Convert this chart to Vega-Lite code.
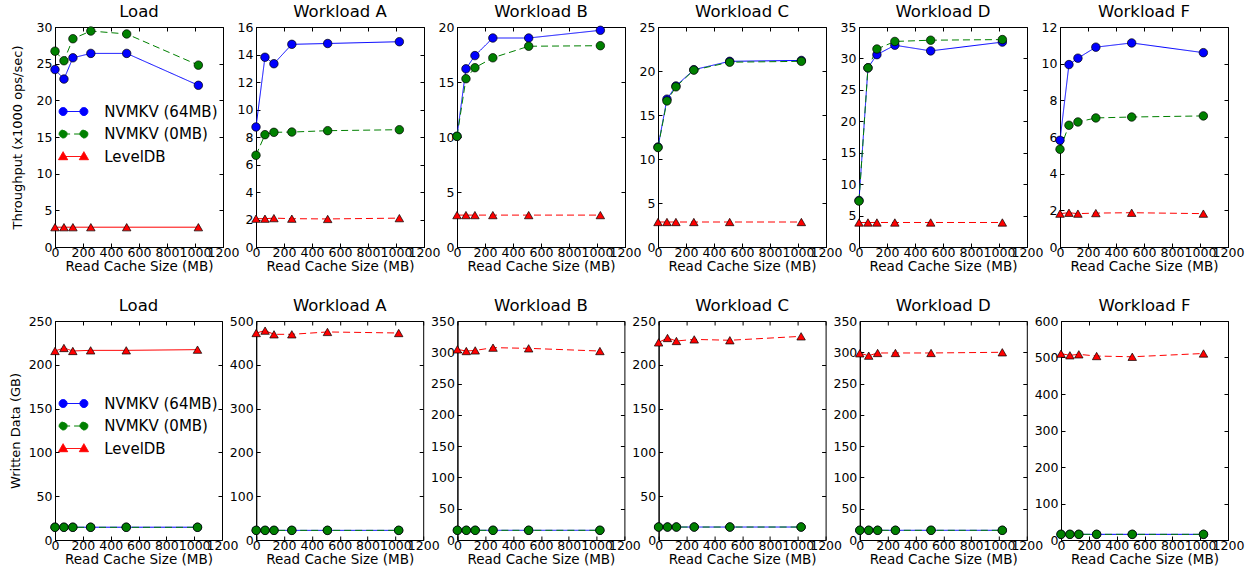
{
"$schema":"https://vega.github.io/schema/vega-lite/v6.json",
"background":"white",
"padding":{"left":8,"top":3,"right":0,"bottom":0},
"spacing":23,
"columns":1,
"align":"none",
"resolve":{"scale":{"color":"independent","shape":"independent","strokeDash":"independent"}},
"concat":[
{"spacing":33.0,"bounds":"flush",
 "resolve":{"scale":{"color":"independent","shape":"independent","strokeDash":"independent"}},
 "hconcat":[
  {"width":168,"height":220,"title":"Load",
   "data":{"values":[
    {"cache":0,"series":"NVMKV (64MB)","value":24.2},{"cache":64,"series":"NVMKV (64MB)","value":22.9},{"cache":128,"series":"NVMKV (64MB)","value":25.8},{"cache":256,"series":"NVMKV (64MB)","value":26.4},{"cache":512,"series":"NVMKV (64MB)","value":26.4},{"cache":1024,"series":"NVMKV (64MB)","value":22.05},
    {"cache":0,"series":"NVMKV (0MB)","value":26.7},{"cache":64,"series":"NVMKV (0MB)","value":25.4},{"cache":128,"series":"NVMKV (0MB)","value":28.4},{"cache":256,"series":"NVMKV (0MB)","value":29.45},{"cache":512,"series":"NVMKV (0MB)","value":29.05},{"cache":1024,"series":"NVMKV (0MB)","value":24.8},
    {"cache":0,"series":"LevelDB","value":2.7},{"cache":64,"series":"LevelDB","value":2.7},{"cache":128,"series":"LevelDB","value":2.7},{"cache":256,"series":"LevelDB","value":2.7},{"cache":512,"series":"LevelDB","value":2.7},{"cache":1024,"series":"LevelDB","value":2.7}]},
   "layer":[
    {"transform":[{"filter":"false"}],
     "mark":{"type":"point","filled":true,"opacity":1},
     "encoding":{
      "x":{"field":"cache","type":"quantitative","axis":null},
      "y":{"field":"value","type":"quantitative","axis":null},
      "color":{"field":"series","type":"nominal","scale":{"domain":["NVMKV (64MB)","NVMKV (0MB)","LevelDB"],"range":["#0000ff","#008000","#ff0000"]},
        "legend":{"orient":"none","legendX":11,"legendY":77,"title":null,"padding":0,"labelFontSize":15,"labelFont":"DejaVu Sans","labelColor":"black","labelOffset":23.2,"rowPadding":6.5,"symbolSize":64,"symbolStrokeWidth":1,"symbolOpacity":1}},
      "shape":{"field":"series","type":"nominal","scale":{"domain":["NVMKV (64MB)","NVMKV (0MB)","LevelDB"],"range":["M-2.6,0L2.6,0M-1.6,0A1,1,0,1,1,-3.6,0A1,1,0,1,1,-1.6,0ZM3.6,0A1,1,0,1,1,1.6,0A1,1,0,1,1,3.6,0Z","M-2.6,0L2.6,0M-1.6,0A1,1,0,1,1,-3.6,0A1,1,0,1,1,-1.6,0ZM3.6,0A1,1,0,1,1,1.6,0A1,1,0,1,1,3.6,0Z","M-2.6,0L2.6,0M-2.6,-1.2L-1.45,0.8L-3.75,0.8ZM2.6,-1.2L3.75,0.8L1.45,0.8Z"]}}}},
    {"mark":{"type":"line","strokeWidth":1},
     "encoding":{
      "x":{"field":"cache","type":"quantitative","scale":{"domain":[0,1200],"nice":false},"axis":{"values":[0,200,400,600,800,1000,1200],"title":"Read Cache Size (MB)"}},
      "y":{"field":"value","type":"quantitative","scale":{"domain":[0,30],"nice":false},"axis":{"values":[0,5,10,15,20,25,30],"title":"Throughput (x1000 ops/sec)","titlePadding":12}},
      "color":{"field":"series","type":"nominal","scale":{"domain":["NVMKV (64MB)","NVMKV (0MB)","LevelDB"],"range":["#0000ff","#008000","#ff0000"]}},
      "strokeDash":{"field":"series","type":"nominal","scale":{"domain":["NVMKV (64MB)","NVMKV (0MB)","LevelDB"],"range":[[1,0],[7,4],[1,0]]}}}},
    {"transform":[{"filter":"datum.series !== 'LevelDB'"}],
     "mark":{"type":"point","shape":"circle","filled":true,"size":72,"stroke":"black","strokeWidth":0.7,"opacity":1},
     "encoding":{
      "x":{"field":"cache","type":"quantitative","axis":null},
      "y":{"field":"value","type":"quantitative","axis":null},
      "color":{"field":"series","type":"nominal","scale":{"domain":["NVMKV (64MB)","NVMKV (0MB)","LevelDB"],"range":["#0000ff","#008000","#ff0000"]}}}},
    {"transform":[{"filter":"datum.series === 'LevelDB'"}],
     "mark":{"type":"point","shape":"triangle-up","filled":true,"size":72,"stroke":"black","strokeWidth":0.7,"opacity":1},
     "encoding":{
      "x":{"field":"cache","type":"quantitative","axis":null},
      "y":{"field":"value","type":"quantitative","axis":null},
      "color":{"field":"series","type":"nominal","scale":{"domain":["NVMKV (64MB)","NVMKV (0MB)","LevelDB"],"range":["#0000ff","#008000","#ff0000"]}}}},
    {"mark":{"type":"point","opacity":0},
     "encoding":{
      "x":{"field":"cache","type":"quantitative","axis":{"orient":"top","values":[0,200,400,600,800,1000,1200],"labels":false,"title":null,"domain":false}},
      "y":{"field":"value","type":"quantitative","axis":{"orient":"right","values":[0,5,10,15,20,25,30],"labels":false,"title":null,"domain":false}}}}
   ],
   "resolve":{"axis":{"x":"independent","y":"independent"}}},

  {"width":168,"height":220,"title":"Workload A",
   "data":{"values":[
    {"cache":0,"series":"NVMKV (64MB)","value":8.73},{"cache":64,"series":"NVMKV (64MB)","value":13.8},{"cache":128,"series":"NVMKV (64MB)","value":13.33},{"cache":256,"series":"NVMKV (64MB)","value":14.74},{"cache":512,"series":"NVMKV (64MB)","value":14.8},{"cache":1024,"series":"NVMKV (64MB)","value":14.93},
    {"cache":0,"series":"NVMKV (0MB)","value":6.67},{"cache":64,"series":"NVMKV (0MB)","value":8.17},{"cache":128,"series":"NVMKV (0MB)","value":8.34},{"cache":256,"series":"NVMKV (0MB)","value":8.36},{"cache":512,"series":"NVMKV (0MB)","value":8.46},{"cache":1024,"series":"NVMKV (0MB)","value":8.53},
    {"cache":0,"series":"LevelDB","value":2.06},{"cache":64,"series":"LevelDB","value":2.06},{"cache":128,"series":"LevelDB","value":2.1},{"cache":256,"series":"LevelDB","value":2.06},{"cache":512,"series":"LevelDB","value":2.04},{"cache":1024,"series":"LevelDB","value":2.1}]},
   "layer":[
    {"mark":{"type":"line","strokeWidth":1},
     "encoding":{
      "x":{"field":"cache","type":"quantitative","scale":{"domain":[0,1200],"nice":false},"axis":{"values":[0,200,400,600,800,1000,1200],"title":"Read Cache Size (MB)"}},
      "y":{"field":"value","type":"quantitative","scale":{"domain":[0,16],"nice":false},"axis":{"values":[0,2,4,6,8,10,12,14,16],"title":null}},
      "color":{"field":"series","type":"nominal","scale":{"domain":["NVMKV (64MB)","NVMKV (0MB)","LevelDB"],"range":["#0000ff","#008000","#ff0000"]},"legend":null},
      "strokeDash":{"field":"series","type":"nominal","scale":{"domain":["NVMKV (64MB)","NVMKV (0MB)","LevelDB"],"range":[[1,0],[7,4],[7,4]]},"legend":null}}},
    {"mark":{"type":"point","filled":true,"size":72,"stroke":"black","strokeWidth":0.7,"opacity":1},
     "encoding":{
      "x":{"field":"cache","type":"quantitative","axis":null},
      "y":{"field":"value","type":"quantitative","axis":null},
      "color":{"field":"series","type":"nominal","scale":{"domain":["NVMKV (64MB)","NVMKV (0MB)","LevelDB"],"range":["#0000ff","#008000","#ff0000"]},"legend":null},
      "shape":{"field":"series","type":"nominal","scale":{"domain":["NVMKV (64MB)","NVMKV (0MB)","LevelDB"],"range":["circle","circle","triangle-up"]},"legend":null}}},
    {"mark":{"type":"point","opacity":0},
     "encoding":{
      "x":{"field":"cache","type":"quantitative","axis":{"orient":"top","values":[0,200,400,600,800,1000,1200],"labels":false,"title":null,"domain":false}},
      "y":{"field":"value","type":"quantitative","axis":{"orient":"right","values":[0,2,4,6,8,10,12,14,16],"labels":false,"title":null,"domain":false}}}}
   ],
   "resolve":{"axis":{"x":"independent","y":"independent"}}},

  {"width":168,"height":220,"title":"Workload B",
   "data":{"values":[
    {"cache":0,"series":"NVMKV (64MB)","value":10.06},{"cache":64,"series":"NVMKV (64MB)","value":16.2},{"cache":128,"series":"NVMKV (64MB)","value":17.4},{"cache":256,"series":"NVMKV (64MB)","value":19.0},{"cache":512,"series":"NVMKV (64MB)","value":19.0},{"cache":1024,"series":"NVMKV (64MB)","value":19.7},
    {"cache":0,"series":"NVMKV (0MB)","value":10.06},{"cache":64,"series":"NVMKV (0MB)","value":15.3},{"cache":128,"series":"NVMKV (0MB)","value":16.3},{"cache":256,"series":"NVMKV (0MB)","value":17.2},{"cache":512,"series":"NVMKV (0MB)","value":18.25},{"cache":1024,"series":"NVMKV (0MB)","value":18.3},
    {"cache":0,"series":"LevelDB","value":2.9},{"cache":64,"series":"LevelDB","value":2.9},{"cache":128,"series":"LevelDB","value":2.9},{"cache":256,"series":"LevelDB","value":2.9},{"cache":512,"series":"LevelDB","value":2.9},{"cache":1024,"series":"LevelDB","value":2.9}]},
   "layer":[
    {"mark":{"type":"line","strokeWidth":1},
     "encoding":{
      "x":{"field":"cache","type":"quantitative","scale":{"domain":[0,1200],"nice":false},"axis":{"values":[0,200,400,600,800,1000,1200],"title":"Read Cache Size (MB)"}},
      "y":{"field":"value","type":"quantitative","scale":{"domain":[0,20],"nice":false},"axis":{"values":[0,5,10,15,20],"title":null}},
      "color":{"field":"series","type":"nominal","scale":{"domain":["NVMKV (64MB)","NVMKV (0MB)","LevelDB"],"range":["#0000ff","#008000","#ff0000"]},"legend":null},
      "strokeDash":{"field":"series","type":"nominal","scale":{"domain":["NVMKV (64MB)","NVMKV (0MB)","LevelDB"],"range":[[1,0],[7,4],[7,4]]},"legend":null}}},
    {"mark":{"type":"point","filled":true,"size":72,"stroke":"black","strokeWidth":0.7,"opacity":1},
     "encoding":{
      "x":{"field":"cache","type":"quantitative","axis":null},
      "y":{"field":"value","type":"quantitative","axis":null},
      "color":{"field":"series","type":"nominal","scale":{"domain":["NVMKV (64MB)","NVMKV (0MB)","LevelDB"],"range":["#0000ff","#008000","#ff0000"]},"legend":null},
      "shape":{"field":"series","type":"nominal","scale":{"domain":["NVMKV (64MB)","NVMKV (0MB)","LevelDB"],"range":["circle","circle","triangle-up"]},"legend":null}}},
    {"mark":{"type":"point","opacity":0},
     "encoding":{
      "x":{"field":"cache","type":"quantitative","axis":{"orient":"top","values":[0,200,400,600,800,1000,1200],"labels":false,"title":null,"domain":false}},
      "y":{"field":"value","type":"quantitative","axis":{"orient":"right","values":[0,5,10,15,20],"labels":false,"title":null,"domain":false}}}}
   ],
   "resolve":{"axis":{"x":"independent","y":"independent"}}},

  {"width":168,"height":220,"title":"Workload C",
   "data":{"values":[
    {"cache":0,"series":"NVMKV (64MB)","value":11.36},{"cache":64,"series":"NVMKV (64MB)","value":16.8},{"cache":128,"series":"NVMKV (64MB)","value":18.3},{"cache":256,"series":"NVMKV (64MB)","value":20.15},{"cache":512,"series":"NVMKV (64MB)","value":21.1},{"cache":1024,"series":"NVMKV (64MB)","value":21.2},
    {"cache":0,"series":"NVMKV (0MB)","value":11.3},{"cache":64,"series":"NVMKV (0MB)","value":16.6},{"cache":128,"series":"NVMKV (0MB)","value":18.2},{"cache":256,"series":"NVMKV (0MB)","value":20.1},{"cache":512,"series":"NVMKV (0MB)","value":21.0},{"cache":1024,"series":"NVMKV (0MB)","value":21.1},
    {"cache":0,"series":"LevelDB","value":2.84},{"cache":64,"series":"LevelDB","value":2.84},{"cache":128,"series":"LevelDB","value":2.84},{"cache":256,"series":"LevelDB","value":2.84},{"cache":512,"series":"LevelDB","value":2.84},{"cache":1024,"series":"LevelDB","value":2.84}]},
   "layer":[
    {"mark":{"type":"line","strokeWidth":1},
     "encoding":{
      "x":{"field":"cache","type":"quantitative","scale":{"domain":[0,1200],"nice":false},"axis":{"values":[0,200,400,600,800,1000,1200],"title":"Read Cache Size (MB)"}},
      "y":{"field":"value","type":"quantitative","scale":{"domain":[0,25],"nice":false},"axis":{"values":[0,5,10,15,20,25],"title":null}},
      "color":{"field":"series","type":"nominal","scale":{"domain":["NVMKV (64MB)","NVMKV (0MB)","LevelDB"],"range":["#0000ff","#008000","#ff0000"]},"legend":null},
      "strokeDash":{"field":"series","type":"nominal","scale":{"domain":["NVMKV (64MB)","NVMKV (0MB)","LevelDB"],"range":[[1,0],[7,4],[7,4]]},"legend":null}}},
    {"mark":{"type":"point","filled":true,"size":72,"stroke":"black","strokeWidth":0.7,"opacity":1},
     "encoding":{
      "x":{"field":"cache","type":"quantitative","axis":null},
      "y":{"field":"value","type":"quantitative","axis":null},
      "color":{"field":"series","type":"nominal","scale":{"domain":["NVMKV (64MB)","NVMKV (0MB)","LevelDB"],"range":["#0000ff","#008000","#ff0000"]},"legend":null},
      "shape":{"field":"series","type":"nominal","scale":{"domain":["NVMKV (64MB)","NVMKV (0MB)","LevelDB"],"range":["circle","circle","triangle-up"]},"legend":null}}},
    {"mark":{"type":"point","opacity":0},
     "encoding":{
      "x":{"field":"cache","type":"quantitative","axis":{"orient":"top","values":[0,200,400,600,800,1000,1200],"labels":false,"title":null,"domain":false}},
      "y":{"field":"value","type":"quantitative","axis":{"orient":"right","values":[0,5,10,15,20,25],"labels":false,"title":null,"domain":false}}}}
   ],
   "resolve":{"axis":{"x":"independent","y":"independent"}}},

  {"width":168,"height":220,"title":"Workload D",
   "data":{"values":[
    {"cache":0,"series":"NVMKV (64MB)","value":7.4},{"cache":64,"series":"NVMKV (64MB)","value":28.5},{"cache":128,"series":"NVMKV (64MB)","value":30.6},{"cache":256,"series":"NVMKV (64MB)","value":32.1},{"cache":512,"series":"NVMKV (64MB)","value":31.2},{"cache":1024,"series":"NVMKV (64MB)","value":32.6},
    {"cache":0,"series":"NVMKV (0MB)","value":7.3},{"cache":64,"series":"NVMKV (0MB)","value":28.5},{"cache":128,"series":"NVMKV (0MB)","value":31.5},{"cache":256,"series":"NVMKV (0MB)","value":32.7},{"cache":512,"series":"NVMKV (0MB)","value":32.9},{"cache":1024,"series":"NVMKV (0MB)","value":33.0},
    {"cache":0,"series":"LevelDB","value":3.9},{"cache":64,"series":"LevelDB","value":3.9},{"cache":128,"series":"LevelDB","value":3.9},{"cache":256,"series":"LevelDB","value":3.9},{"cache":512,"series":"LevelDB","value":3.9},{"cache":1024,"series":"LevelDB","value":3.9}]},
   "layer":[
    {"mark":{"type":"line","strokeWidth":1},
     "encoding":{
      "x":{"field":"cache","type":"quantitative","scale":{"domain":[0,1200],"nice":false},"axis":{"values":[0,200,400,600,800,1000,1200],"title":"Read Cache Size (MB)"}},
      "y":{"field":"value","type":"quantitative","scale":{"domain":[0,35],"nice":false},"axis":{"values":[0,5,10,15,20,25,30,35],"title":null}},
      "color":{"field":"series","type":"nominal","scale":{"domain":["NVMKV (64MB)","NVMKV (0MB)","LevelDB"],"range":["#0000ff","#008000","#ff0000"]},"legend":null},
      "strokeDash":{"field":"series","type":"nominal","scale":{"domain":["NVMKV (64MB)","NVMKV (0MB)","LevelDB"],"range":[[1,0],[7,4],[7,4]]},"legend":null}}},
    {"mark":{"type":"point","filled":true,"size":72,"stroke":"black","strokeWidth":0.7,"opacity":1},
     "encoding":{
      "x":{"field":"cache","type":"quantitative","axis":null},
      "y":{"field":"value","type":"quantitative","axis":null},
      "color":{"field":"series","type":"nominal","scale":{"domain":["NVMKV (64MB)","NVMKV (0MB)","LevelDB"],"range":["#0000ff","#008000","#ff0000"]},"legend":null},
      "shape":{"field":"series","type":"nominal","scale":{"domain":["NVMKV (64MB)","NVMKV (0MB)","LevelDB"],"range":["circle","circle","triangle-up"]},"legend":null}}},
    {"mark":{"type":"point","opacity":0},
     "encoding":{
      "x":{"field":"cache","type":"quantitative","axis":{"orient":"top","values":[0,200,400,600,800,1000,1200],"labels":false,"title":null,"domain":false}},
      "y":{"field":"value","type":"quantitative","axis":{"orient":"right","values":[0,5,10,15,20,25,30,35],"labels":false,"title":null,"domain":false}}}}
   ],
   "resolve":{"axis":{"x":"independent","y":"independent"}}},

  {"width":168,"height":220,"title":"Workload F",
   "data":{"values":[
    {"cache":0,"series":"NVMKV (64MB)","value":5.82},{"cache":64,"series":"NVMKV (64MB)","value":9.95},{"cache":128,"series":"NVMKV (64MB)","value":10.3},{"cache":256,"series":"NVMKV (64MB)","value":10.9},{"cache":512,"series":"NVMKV (64MB)","value":11.13},{"cache":1024,"series":"NVMKV (64MB)","value":10.6},
    {"cache":0,"series":"NVMKV (0MB)","value":5.33},{"cache":64,"series":"NVMKV (0MB)","value":6.64},{"cache":128,"series":"NVMKV (0MB)","value":6.82},{"cache":256,"series":"NVMKV (0MB)","value":7.04},{"cache":512,"series":"NVMKV (0MB)","value":7.09},{"cache":1024,"series":"NVMKV (0MB)","value":7.15},
    {"cache":0,"series":"LevelDB","value":1.82},{"cache":64,"series":"LevelDB","value":1.87},{"cache":128,"series":"LevelDB","value":1.82},{"cache":256,"series":"LevelDB","value":1.85},{"cache":512,"series":"LevelDB","value":1.87},{"cache":1024,"series":"LevelDB","value":1.82}]},
   "layer":[
    {"mark":{"type":"line","strokeWidth":1},
     "encoding":{
      "x":{"field":"cache","type":"quantitative","scale":{"domain":[0,1200],"nice":false},"axis":{"values":[0,200,400,600,800,1000,1200],"title":"Read Cache Size (MB)"}},
      "y":{"field":"value","type":"quantitative","scale":{"domain":[0,12],"nice":false},"axis":{"values":[0,2,4,6,8,10,12],"title":null}},
      "color":{"field":"series","type":"nominal","scale":{"domain":["NVMKV (64MB)","NVMKV (0MB)","LevelDB"],"range":["#0000ff","#008000","#ff0000"]},"legend":null},
      "strokeDash":{"field":"series","type":"nominal","scale":{"domain":["NVMKV (64MB)","NVMKV (0MB)","LevelDB"],"range":[[1,0],[7,4],[7,4]]},"legend":null}}},
    {"mark":{"type":"point","filled":true,"size":72,"stroke":"black","strokeWidth":0.7,"opacity":1},
     "encoding":{
      "x":{"field":"cache","type":"quantitative","axis":null},
      "y":{"field":"value","type":"quantitative","axis":null},
      "color":{"field":"series","type":"nominal","scale":{"domain":["NVMKV (64MB)","NVMKV (0MB)","LevelDB"],"range":["#0000ff","#008000","#ff0000"]},"legend":null},
      "shape":{"field":"series","type":"nominal","scale":{"domain":["NVMKV (64MB)","NVMKV (0MB)","LevelDB"],"range":["circle","circle","triangle-up"]},"legend":null}}},
    {"mark":{"type":"point","opacity":0},
     "encoding":{
      "x":{"field":"cache","type":"quantitative","axis":{"orient":"top","values":[0,200,400,600,800,1000,1200],"labels":false,"title":null,"domain":false}},
      "y":{"field":"value","type":"quantitative","axis":{"orient":"right","values":[0,2,4,6,8,10,12],"labels":false,"title":null,"domain":false}}}}
   ],
   "resolve":{"axis":{"x":"independent","y":"independent"}}}
 ]},

{"spacing":34.2,"bounds":"flush",
 "resolve":{"scale":{"color":"independent","shape":"independent","strokeDash":"independent"}},
 "hconcat":[
  {"width":167,"height":219,"title":"Load",
   "data":{"values":[
    {"cache":0,"series":"NVMKV (64MB)","value":14.6},{"cache":64,"series":"NVMKV (64MB)","value":14.6},{"cache":128,"series":"NVMKV (64MB)","value":14.6},{"cache":256,"series":"NVMKV (64MB)","value":14.6},{"cache":512,"series":"NVMKV (64MB)","value":14.6},{"cache":1024,"series":"NVMKV (64MB)","value":14.6},
    {"cache":0,"series":"NVMKV (0MB)","value":14.5},{"cache":64,"series":"NVMKV (0MB)","value":14.5},{"cache":128,"series":"NVMKV (0MB)","value":14.5},{"cache":256,"series":"NVMKV (0MB)","value":14.5},{"cache":512,"series":"NVMKV (0MB)","value":14.5},{"cache":1024,"series":"NVMKV (0MB)","value":14.5},
    {"cache":0,"series":"LevelDB","value":215.8},{"cache":64,"series":"LevelDB","value":219.2},{"cache":128,"series":"LevelDB","value":215.8},{"cache":256,"series":"LevelDB","value":216.5},{"cache":512,"series":"LevelDB","value":216.5},{"cache":1024,"series":"LevelDB","value":217.3}]},
   "layer":[
    {"transform":[{"filter":"false"}],
     "mark":{"type":"point","filled":true,"opacity":1},
     "encoding":{
      "x":{"field":"cache","type":"quantitative","axis":null},
      "y":{"field":"value","type":"quantitative","axis":null},
      "color":{"field":"series","type":"nominal","scale":{"domain":["NVMKV (64MB)","NVMKV (0MB)","LevelDB"],"range":["#0000ff","#008000","#ff0000"]},
        "legend":{"orient":"none","legendX":11,"legendY":75,"title":null,"padding":0,"labelFontSize":15,"labelFont":"DejaVu Sans","labelColor":"black","labelOffset":23.2,"rowPadding":6.5,"symbolSize":64,"symbolStrokeWidth":1,"symbolOpacity":1}},
      "shape":{"field":"series","type":"nominal","scale":{"domain":["NVMKV (64MB)","NVMKV (0MB)","LevelDB"],"range":["M-2.6,0L2.6,0M-1.6,0A1,1,0,1,1,-3.6,0A1,1,0,1,1,-1.6,0ZM3.6,0A1,1,0,1,1,1.6,0A1,1,0,1,1,3.6,0Z","M-2.6,0L2.6,0M-1.6,0A1,1,0,1,1,-3.6,0A1,1,0,1,1,-1.6,0ZM3.6,0A1,1,0,1,1,1.6,0A1,1,0,1,1,3.6,0Z","M-2.6,0L2.6,0M-2.6,-1.2L-1.45,0.8L-3.75,0.8ZM2.6,-1.2L3.75,0.8L1.45,0.8Z"]}}}},
    {"mark":{"type":"line","strokeWidth":1},
     "encoding":{
      "x":{"field":"cache","type":"quantitative","scale":{"domain":[0,1200],"nice":false},"axis":{"values":[0,200,400,600,800,1000,1200],"title":"Read Cache Size (MB)"}},
      "y":{"field":"value","type":"quantitative","scale":{"domain":[0,250],"nice":false},"axis":{"values":[0,50,100,150,200,250],"title":"Written Data (GB)","titlePadding":6}},
      "color":{"field":"series","type":"nominal","scale":{"domain":["NVMKV (64MB)","NVMKV (0MB)","LevelDB"],"range":["#0000ff","#008000","#ff0000"]}},
      "strokeDash":{"field":"series","type":"nominal","scale":{"domain":["NVMKV (64MB)","NVMKV (0MB)","LevelDB"],"range":[[1,0],[7,4],[1,0]]}}}},
    {"transform":[{"filter":"datum.series !== 'LevelDB'"}],
     "mark":{"type":"point","shape":"circle","filled":true,"size":72,"stroke":"black","strokeWidth":0.7,"opacity":1},
     "encoding":{
      "x":{"field":"cache","type":"quantitative","axis":null},
      "y":{"field":"value","type":"quantitative","axis":null},
      "color":{"field":"series","type":"nominal","scale":{"domain":["NVMKV (64MB)","NVMKV (0MB)","LevelDB"],"range":["#0000ff","#008000","#ff0000"]}}}},
    {"transform":[{"filter":"datum.series === 'LevelDB'"}],
     "mark":{"type":"point","shape":"triangle-up","filled":true,"size":72,"stroke":"black","strokeWidth":0.7,"opacity":1},
     "encoding":{
      "x":{"field":"cache","type":"quantitative","axis":null},
      "y":{"field":"value","type":"quantitative","axis":null},
      "color":{"field":"series","type":"nominal","scale":{"domain":["NVMKV (64MB)","NVMKV (0MB)","LevelDB"],"range":["#0000ff","#008000","#ff0000"]}}}},
    {"mark":{"type":"point","opacity":0},
     "encoding":{
      "x":{"field":"cache","type":"quantitative","axis":{"orient":"top","values":[0,200,400,600,800,1000,1200],"labels":false,"title":null,"domain":false}},
      "y":{"field":"value","type":"quantitative","axis":{"orient":"right","values":[0,50,100,150,200,250],"labels":false,"title":null,"domain":false}}}}
   ],
   "resolve":{"axis":{"x":"independent","y":"independent"}}},

  {"width":167,"height":219,"title":"Workload A",
   "data":{"values":[
    {"cache":0,"series":"NVMKV (64MB)","value":22},{"cache":64,"series":"NVMKV (64MB)","value":22},{"cache":128,"series":"NVMKV (64MB)","value":22},{"cache":256,"series":"NVMKV (64MB)","value":22},{"cache":512,"series":"NVMKV (64MB)","value":22},{"cache":1024,"series":"NVMKV (64MB)","value":22},
    {"cache":0,"series":"NVMKV (0MB)","value":22},{"cache":64,"series":"NVMKV (0MB)","value":22},{"cache":128,"series":"NVMKV (0MB)","value":22},{"cache":256,"series":"NVMKV (0MB)","value":22},{"cache":512,"series":"NVMKV (0MB)","value":22},{"cache":1024,"series":"NVMKV (0MB)","value":22},
    {"cache":0,"series":"LevelDB","value":472.6},{"cache":64,"series":"LevelDB","value":478},{"cache":128,"series":"LevelDB","value":469.6},{"cache":256,"series":"LevelDB","value":469.6},{"cache":512,"series":"LevelDB","value":475},{"cache":1024,"series":"LevelDB","value":472.6}]},
   "layer":[
    {"mark":{"type":"line","strokeWidth":1},
     "encoding":{
      "x":{"field":"cache","type":"quantitative","scale":{"domain":[0,1200],"nice":false},"axis":{"values":[0,200,400,600,800,1000,1200],"title":"Read Cache Size (MB)"}},
      "y":{"field":"value","type":"quantitative","scale":{"domain":[0,500],"nice":false},"axis":{"values":[0,100,200,300,400,500],"title":null}},
      "color":{"field":"series","type":"nominal","scale":{"domain":["NVMKV (64MB)","NVMKV (0MB)","LevelDB"],"range":["#0000ff","#008000","#ff0000"]},"legend":null},
      "strokeDash":{"field":"series","type":"nominal","scale":{"domain":["NVMKV (64MB)","NVMKV (0MB)","LevelDB"],"range":[[1,0],[7,4],[7,4]]},"legend":null}}},
    {"mark":{"type":"point","filled":true,"size":72,"stroke":"black","strokeWidth":0.7,"opacity":1},
     "encoding":{
      "x":{"field":"cache","type":"quantitative","axis":null},
      "y":{"field":"value","type":"quantitative","axis":null},
      "color":{"field":"series","type":"nominal","scale":{"domain":["NVMKV (64MB)","NVMKV (0MB)","LevelDB"],"range":["#0000ff","#008000","#ff0000"]},"legend":null},
      "shape":{"field":"series","type":"nominal","scale":{"domain":["NVMKV (64MB)","NVMKV (0MB)","LevelDB"],"range":["circle","circle","triangle-up"]},"legend":null}}},
    {"mark":{"type":"point","opacity":0},
     "encoding":{
      "x":{"field":"cache","type":"quantitative","axis":{"orient":"top","values":[0,200,400,600,800,1000,1200],"labels":false,"title":null,"domain":false}},
      "y":{"field":"value","type":"quantitative","axis":{"orient":"right","values":[0,100,200,300,400,500],"labels":false,"title":null,"domain":false}}}}
   ],
   "resolve":{"axis":{"x":"independent","y":"independent"}}},

  {"width":167,"height":219,"title":"Workload B",
   "data":{"values":[
    {"cache":0,"series":"NVMKV (64MB)","value":15.5},{"cache":64,"series":"NVMKV (64MB)","value":15.5},{"cache":128,"series":"NVMKV (64MB)","value":15.5},{"cache":256,"series":"NVMKV (64MB)","value":15.5},{"cache":512,"series":"NVMKV (64MB)","value":15.5},{"cache":1024,"series":"NVMKV (64MB)","value":15.5},
    {"cache":0,"series":"NVMKV (0MB)","value":15.5},{"cache":64,"series":"NVMKV (0MB)","value":15.5},{"cache":128,"series":"NVMKV (0MB)","value":15.5},{"cache":256,"series":"NVMKV (0MB)","value":15.5},{"cache":512,"series":"NVMKV (0MB)","value":15.5},{"cache":1024,"series":"NVMKV (0MB)","value":15.5},
    {"cache":0,"series":"LevelDB","value":304.7},{"cache":64,"series":"LevelDB","value":302},{"cache":128,"series":"LevelDB","value":303},{"cache":256,"series":"LevelDB","value":307.4},{"cache":512,"series":"LevelDB","value":306.3},{"cache":1024,"series":"LevelDB","value":302}]},
   "layer":[
    {"mark":{"type":"line","strokeWidth":1},
     "encoding":{
      "x":{"field":"cache","type":"quantitative","scale":{"domain":[0,1200],"nice":false},"axis":{"values":[0,200,400,600,800,1000,1200],"title":"Read Cache Size (MB)"}},
      "y":{"field":"value","type":"quantitative","scale":{"domain":[0,350],"nice":false},"axis":{"values":[0,50,100,150,200,250,300,350],"title":null}},
      "color":{"field":"series","type":"nominal","scale":{"domain":["NVMKV (64MB)","NVMKV (0MB)","LevelDB"],"range":["#0000ff","#008000","#ff0000"]},"legend":null},
      "strokeDash":{"field":"series","type":"nominal","scale":{"domain":["NVMKV (64MB)","NVMKV (0MB)","LevelDB"],"range":[[1,0],[7,4],[7,4]]},"legend":null}}},
    {"mark":{"type":"point","filled":true,"size":72,"stroke":"black","strokeWidth":0.7,"opacity":1},
     "encoding":{
      "x":{"field":"cache","type":"quantitative","axis":null},
      "y":{"field":"value","type":"quantitative","axis":null},
      "color":{"field":"series","type":"nominal","scale":{"domain":["NVMKV (64MB)","NVMKV (0MB)","LevelDB"],"range":["#0000ff","#008000","#ff0000"]},"legend":null},
      "shape":{"field":"series","type":"nominal","scale":{"domain":["NVMKV (64MB)","NVMKV (0MB)","LevelDB"],"range":["circle","circle","triangle-up"]},"legend":null}}},
    {"mark":{"type":"point","opacity":0},
     "encoding":{
      "x":{"field":"cache","type":"quantitative","axis":{"orient":"top","values":[0,200,400,600,800,1000,1200],"labels":false,"title":null,"domain":false}},
      "y":{"field":"value","type":"quantitative","axis":{"orient":"right","values":[0,50,100,150,200,250,300,350],"labels":false,"title":null,"domain":false}}}}
   ],
   "resolve":{"axis":{"x":"independent","y":"independent"}}},

  {"width":167,"height":219,"title":"Workload C",
   "data":{"values":[
    {"cache":0,"series":"NVMKV (64MB)","value":14.8},{"cache":64,"series":"NVMKV (64MB)","value":14.8},{"cache":128,"series":"NVMKV (64MB)","value":14.8},{"cache":256,"series":"NVMKV (64MB)","value":14.8},{"cache":512,"series":"NVMKV (64MB)","value":14.8},{"cache":1024,"series":"NVMKV (64MB)","value":14.8},
    {"cache":0,"series":"NVMKV (0MB)","value":14.8},{"cache":64,"series":"NVMKV (0MB)","value":14.8},{"cache":128,"series":"NVMKV (0MB)","value":14.8},{"cache":256,"series":"NVMKV (0MB)","value":14.8},{"cache":512,"series":"NVMKV (0MB)","value":14.8},{"cache":1024,"series":"NVMKV (0MB)","value":14.8},
    {"cache":0,"series":"LevelDB","value":225.6},{"cache":64,"series":"LevelDB","value":230.6},{"cache":128,"series":"LevelDB","value":227.2},{"cache":256,"series":"LevelDB","value":229},{"cache":512,"series":"LevelDB","value":228},{"cache":1024,"series":"LevelDB","value":232.5}]},
   "layer":[
    {"mark":{"type":"line","strokeWidth":1},
     "encoding":{
      "x":{"field":"cache","type":"quantitative","scale":{"domain":[0,1200],"nice":false},"axis":{"values":[0,200,400,600,800,1000,1200],"title":"Read Cache Size (MB)"}},
      "y":{"field":"value","type":"quantitative","scale":{"domain":[0,250],"nice":false},"axis":{"values":[0,50,100,150,200,250],"title":null}},
      "color":{"field":"series","type":"nominal","scale":{"domain":["NVMKV (64MB)","NVMKV (0MB)","LevelDB"],"range":["#0000ff","#008000","#ff0000"]},"legend":null},
      "strokeDash":{"field":"series","type":"nominal","scale":{"domain":["NVMKV (64MB)","NVMKV (0MB)","LevelDB"],"range":[[1,0],[7,4],[7,4]]},"legend":null}}},
    {"mark":{"type":"point","filled":true,"size":72,"stroke":"black","strokeWidth":0.7,"opacity":1},
     "encoding":{
      "x":{"field":"cache","type":"quantitative","axis":null},
      "y":{"field":"value","type":"quantitative","axis":null},
      "color":{"field":"series","type":"nominal","scale":{"domain":["NVMKV (64MB)","NVMKV (0MB)","LevelDB"],"range":["#0000ff","#008000","#ff0000"]},"legend":null},
      "shape":{"field":"series","type":"nominal","scale":{"domain":["NVMKV (64MB)","NVMKV (0MB)","LevelDB"],"range":["circle","circle","triangle-up"]},"legend":null}}},
    {"mark":{"type":"point","opacity":0},
     "encoding":{
      "x":{"field":"cache","type":"quantitative","axis":{"orient":"top","values":[0,200,400,600,800,1000,1200],"labels":false,"title":null,"domain":false}},
      "y":{"field":"value","type":"quantitative","axis":{"orient":"right","values":[0,50,100,150,200,250],"labels":false,"title":null,"domain":false}}}}
   ],
   "resolve":{"axis":{"x":"independent","y":"independent"}}},

  {"width":167,"height":219,"title":"Workload D",
   "data":{"values":[
    {"cache":0,"series":"NVMKV (64MB)","value":15.5},{"cache":64,"series":"NVMKV (64MB)","value":15.5},{"cache":128,"series":"NVMKV (64MB)","value":15.5},{"cache":256,"series":"NVMKV (64MB)","value":15.5},{"cache":512,"series":"NVMKV (64MB)","value":15.5},{"cache":1024,"series":"NVMKV (64MB)","value":15.5},
    {"cache":0,"series":"NVMKV (0MB)","value":15.5},{"cache":64,"series":"NVMKV (0MB)","value":15.5},{"cache":128,"series":"NVMKV (0MB)","value":15.5},{"cache":256,"series":"NVMKV (0MB)","value":15.5},{"cache":512,"series":"NVMKV (0MB)","value":15.5},{"cache":1024,"series":"NVMKV (0MB)","value":15.5},
    {"cache":0,"series":"LevelDB","value":298.4},{"cache":64,"series":"LevelDB","value":294.6},{"cache":128,"series":"LevelDB","value":298.9},{"cache":256,"series":"LevelDB","value":298.9},{"cache":512,"series":"LevelDB","value":298.9},{"cache":1024,"series":"LevelDB","value":300}]},
   "layer":[
    {"mark":{"type":"line","strokeWidth":1},
     "encoding":{
      "x":{"field":"cache","type":"quantitative","scale":{"domain":[0,1200],"nice":false},"axis":{"values":[0,200,400,600,800,1000,1200],"title":"Read Cache Size (MB)"}},
      "y":{"field":"value","type":"quantitative","scale":{"domain":[0,350],"nice":false},"axis":{"values":[0,50,100,150,200,250,300,350],"title":null}},
      "color":{"field":"series","type":"nominal","scale":{"domain":["NVMKV (64MB)","NVMKV (0MB)","LevelDB"],"range":["#0000ff","#008000","#ff0000"]},"legend":null},
      "strokeDash":{"field":"series","type":"nominal","scale":{"domain":["NVMKV (64MB)","NVMKV (0MB)","LevelDB"],"range":[[1,0],[7,4],[7,4]]},"legend":null}}},
    {"mark":{"type":"point","filled":true,"size":72,"stroke":"black","strokeWidth":0.7,"opacity":1},
     "encoding":{
      "x":{"field":"cache","type":"quantitative","axis":null},
      "y":{"field":"value","type":"quantitative","axis":null},
      "color":{"field":"series","type":"nominal","scale":{"domain":["NVMKV (64MB)","NVMKV (0MB)","LevelDB"],"range":["#0000ff","#008000","#ff0000"]},"legend":null},
      "shape":{"field":"series","type":"nominal","scale":{"domain":["NVMKV (64MB)","NVMKV (0MB)","LevelDB"],"range":["circle","circle","triangle-up"]},"legend":null}}},
    {"mark":{"type":"point","opacity":0},
     "encoding":{
      "x":{"field":"cache","type":"quantitative","axis":{"orient":"top","values":[0,200,400,600,800,1000,1200],"labels":false,"title":null,"domain":false}},
      "y":{"field":"value","type":"quantitative","axis":{"orient":"right","values":[0,50,100,150,200,250,300,350],"labels":false,"title":null,"domain":false}}}}
   ],
   "resolve":{"axis":{"x":"independent","y":"independent"}}},

  {"width":167,"height":219,"title":"Workload F",
   "data":{"values":[
    {"cache":0,"series":"NVMKV (64MB)","value":15.5},{"cache":64,"series":"NVMKV (64MB)","value":15.5},{"cache":128,"series":"NVMKV (64MB)","value":15.5},{"cache":256,"series":"NVMKV (64MB)","value":15.5},{"cache":512,"series":"NVMKV (64MB)","value":15.5},{"cache":1024,"series":"NVMKV (64MB)","value":15.5},
    {"cache":0,"series":"NVMKV (0MB)","value":15.5},{"cache":64,"series":"NVMKV (0MB)","value":15.5},{"cache":128,"series":"NVMKV (0MB)","value":15.5},{"cache":256,"series":"NVMKV (0MB)","value":15.5},{"cache":512,"series":"NVMKV (0MB)","value":15.5},{"cache":1024,"series":"NVMKV (0MB)","value":15.5},
    {"cache":0,"series":"LevelDB","value":510.5},{"cache":64,"series":"LevelDB","value":506},{"cache":128,"series":"LevelDB","value":508.7},{"cache":256,"series":"LevelDB","value":504},{"cache":512,"series":"LevelDB","value":502},{"cache":1024,"series":"LevelDB","value":511}]},
   "layer":[
    {"mark":{"type":"line","strokeWidth":1},
     "encoding":{
      "x":{"field":"cache","type":"quantitative","scale":{"domain":[0,1200],"nice":false},"axis":{"values":[0,200,400,600,800,1000,1200],"title":"Read Cache Size (MB)"}},
      "y":{"field":"value","type":"quantitative","scale":{"domain":[0,600],"nice":false},"axis":{"values":[0,100,200,300,400,500,600],"title":null}},
      "color":{"field":"series","type":"nominal","scale":{"domain":["NVMKV (64MB)","NVMKV (0MB)","LevelDB"],"range":["#0000ff","#008000","#ff0000"]},"legend":null},
      "strokeDash":{"field":"series","type":"nominal","scale":{"domain":["NVMKV (64MB)","NVMKV (0MB)","LevelDB"],"range":[[1,0],[7,4],[7,4]]},"legend":null}}},
    {"mark":{"type":"point","filled":true,"size":72,"stroke":"black","strokeWidth":0.7,"opacity":1},
     "encoding":{
      "x":{"field":"cache","type":"quantitative","axis":null},
      "y":{"field":"value","type":"quantitative","axis":null},
      "color":{"field":"series","type":"nominal","scale":{"domain":["NVMKV (64MB)","NVMKV (0MB)","LevelDB"],"range":["#0000ff","#008000","#ff0000"]},"legend":null},
      "shape":{"field":"series","type":"nominal","scale":{"domain":["NVMKV (64MB)","NVMKV (0MB)","LevelDB"],"range":["circle","circle","triangle-up"]},"legend":null}}},
    {"mark":{"type":"point","opacity":0},
     "encoding":{
      "x":{"field":"cache","type":"quantitative","axis":{"orient":"top","values":[0,200,400,600,800,1000,1200],"labels":false,"title":null,"domain":false}},
      "y":{"field":"value","type":"quantitative","axis":{"orient":"right","values":[0,100,200,300,400,500,600],"labels":false,"title":null,"domain":false}}}}
   ],
   "resolve":{"axis":{"x":"independent","y":"independent"}}}
 ]}
],
"config":{
 "font":"DejaVu Sans",
 "view":{"stroke":"black","strokeWidth":1},
 "axis":{"grid":false,"format":"d","domainColor":"black","domainWidth":1,"tickColor":"black","tickSize":-4,"tickWidth":1,"labelColor":"black","labelFont":"DejaVu Sans","labelFontSize":12.5,"labelPadding":7,"labelFlush":false,"labelOverlap":false,"labelBound":false,"titleFont":"DejaVu Sans","titleFontSize":13.5,"titleFontWeight":"normal","titleColor":"black"},
 "axisX":{"titlePadding":1,"labelPadding":3},
 "axisY":{"titleFontSize":13},
 "title":{"font":"DejaVu Sans","fontSize":16.5,"fontWeight":"normal","color":"black","offset":1,"frame":"group","anchor":"middle"}
}
}
